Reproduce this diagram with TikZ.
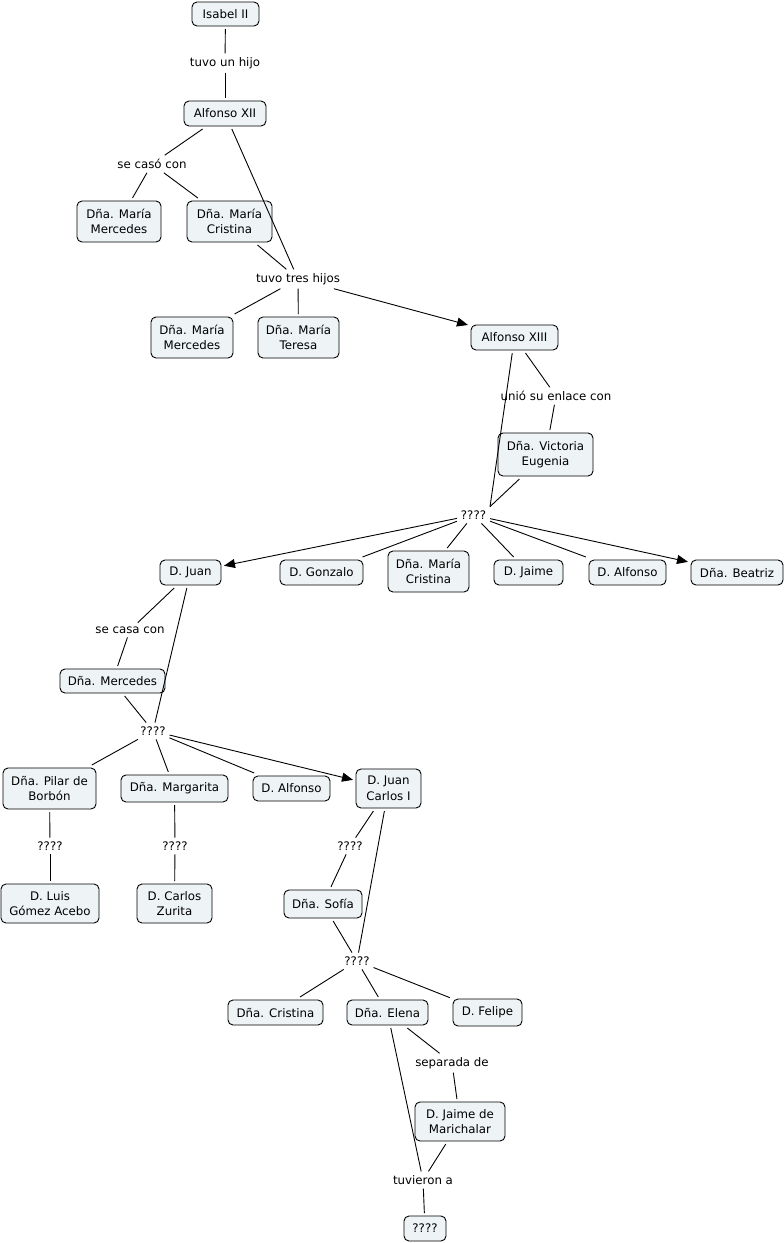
\documentclass[tikz,border=0pt]{standalone}
\usepackage{fontspec}
\setmainfont{DejaVu Sans}
\usetikzlibrary{arrows.meta}
\definecolor{boxfill}{RGB}{238,243,245}
\begin{document}
\begin{tikzpicture}[x=1pt,y=-1pt,
 cbox/.style={draw=black, fill=boxfill, rounded corners=5pt, line width=0.9pt, align=center, inner sep=0pt, outer sep=3pt, font=\fontsize{11.8}{15.5}\selectfont},
 lbl/.style={inner sep=2pt, outer sep=2pt, font=\fontsize{11.8}{15.5}\selectfont},
 con/.style={draw=black, line width=0.9pt},
 arr/.style={con, -{Triangle[length=11pt,width=9pt]}}
]
\useasboundingbox[fill=white] (0,0) rectangle (784,1243);

% boxes
\node[cbox, minimum width=67, minimum height=24] (isabel) at (225.5,14) {Isabel II};
\node[cbox, minimum width=82, minimum height=25] (alf12) at (225,113.5) {Alfonso XII};
\node[cbox, minimum width=84, minimum height=41] (mm1) at (119,221.5) {Dña. María\\Mercedes};
\node[cbox, minimum width=85, minimum height=41] (mc1) at (229.5,221.5) {Dña. María\\Cristina};
\node[cbox, minimum width=82, minimum height=41] (mm2) at (192,337.5) {Dña. María\\Mercedes};
\node[cbox, minimum width=81, minimum height=41] (mt) at (298.5,337.5) {Dña. María\\Teresa};
\node[cbox, minimum width=87, minimum height=25] (alf13) at (514.5,337.5) {Alfonso XIII};
\node[cbox, minimum width=95, minimum height=43] (ve) at (545.5,454.5) {Dña. Victoria\\Eugenia};
\node[cbox, minimum width=61, minimum height=25] (juan) at (190.5,572.5) {D. Juan};
\node[cbox, minimum width=83, minimum height=25] (gonz) at (321.5,572.5) {D. Gonzalo};
\node[cbox, minimum width=81, minimum height=41] (mc2) at (428.5,571.5) {Dña. María\\Cristina};
\node[cbox, minimum width=69, minimum height=25] (jaime) at (528.5,572.5) {D. Jaime};
\node[cbox, minimum width=77, minimum height=25] (alfonso) at (627.5,572.5) {D. Alfonso};
\node[cbox, minimum width=92, minimum height=25] (beatriz) at (737,572.5) {Dña. Beatriz};
\node[cbox, minimum width=105, minimum height=24] (merc) at (112.5,681) {Dña. Mercedes};
\node[cbox, minimum width=93, minimum height=41] (pilar) at (49.5,788.5) {Dña. Pilar de\\Borbón};
\node[cbox, minimum width=107, minimum height=27] (marg) at (174.5,788.5) {Dña. Margarita};
\node[cbox, minimum width=77, minimum height=25] (alf2) at (291.5,788.5) {D. Alfonso};
\node[cbox, minimum width=65, minimum height=39] (jc) at (388.5,788.5) {D. Juan\\Carlos I};
\node[cbox, minimum width=98, minimum height=39] (luis) at (50,903.5) {D. Luis\\Gómez Acebo};
\node[cbox, minimum width=75, minimum height=39] (carlos) at (174.5,903.5) {D. Carlos\\Zurita};
\node[cbox, minimum width=78, minimum height=28] (sofia) at (323,904) {Dña. Sofía};
\node[cbox, minimum width=95, minimum height=25] (cris) at (275.5,1012.5) {Dña. Cristina};
\node[cbox, minimum width=81, minimum height=25] (elena) at (387.5,1012.5) {Dña. Elena};
\node[cbox, minimum width=69, minimum height=27] (felipe) at (487.5,1012.5) {D. Felipe};
\node[cbox, minimum width=90, minimum height=39] (jm) at (460,1121.5) {D. Jaime de\\Marichalar};
\node[cbox, minimum width=42, minimum height=25] (final) at (425,1228.5) {????};

% labels
\node[lbl] (l1) at (225,63) {tuvo un hijo};
\node[lbl] (l2) at (152,164) {se casó con};
\node[lbl] (l3) at (298,279) {tuvo tres hijos};
\node[lbl] (l4) at (556,396) {unió su enlace con};
\node[lbl] (q1) at (473.5,515) {????};
\node[lbl] (l5) at (130,630) {se casa con};
\node[lbl] (q2) at (153,731) {????};
\node[lbl] (q3) at (50,846) {????};
\node[lbl] (q4) at (175,846) {????};
\node[lbl] (q5) at (350,846) {????};
\node[lbl] (q6) at (357,961) {????};
\node[lbl] (l6) at (452,1063) {separada de};
\node[lbl] (l7) at (423,1180) {tuvieron a};

% connectors
\draw[con] (isabel) -- (l1);
\draw[con] (l1) -- (alf12);
\draw[con] (alf12) -- (l2);
\draw[con] (l2) -- (mm1);
\draw[con] (l2) -- (mc1);
\draw[con] (alf12) -- (l3);
\draw[con] (mc1) -- (l3);
\draw[con] (l3) -- (mm2);
\draw[con] (l3) -- (mt);
\draw[arr] (l3) -- (alf13);
\draw[con] (alf13) -- (l4);
\draw[con] (l4) -- (ve);
\draw[con] (alf13) -- (q1.north east);
\draw[con] (ve) -- (q1.north east);
\draw[arr] (q1) -- (juan);
\draw[con] (q1) -- (gonz);
\draw[con] (q1) -- (mc2);
\draw[con] (q1) -- (jaime);
\draw[con] (q1) -- (alfonso);
\draw[arr] (q1) -- (beatriz);
\draw[con] (juan) -- (l5);
\draw[con] (l5) -- (merc);
\draw[con] (juan) -- (q2);
\draw[con] (merc) -- (q2);
\draw[con] (q2) -- (pilar);
\draw[con] (q2) -- (marg);
\draw[con] (q2) -- (alf2);
\draw[arr] (q2) -- (jc);
\draw[con] (pilar) -- (q3);
\draw[con] (q3) -- (luis);
\draw[con] (marg) -- (q4);
\draw[con] (q4) -- (carlos);
\draw[con] (jc) -- (q5);
\draw[con] (q5) -- (sofia);
\draw[con] (jc) -- (q6);
\draw[con] (sofia) -- (q6);
\draw[con] (q6) -- (cris);
\draw[con] (q6) -- (elena);
\draw[con] (q6) -- (felipe);
\draw[con] (elena) -- (l6);
\draw[con] (l6) -- (jm);
\draw[con] (elena) -- (l7);
\draw[con] (jm) -- (l7);
\draw[con] (l7) -- (final);
\end{tikzpicture}
\end{document}
